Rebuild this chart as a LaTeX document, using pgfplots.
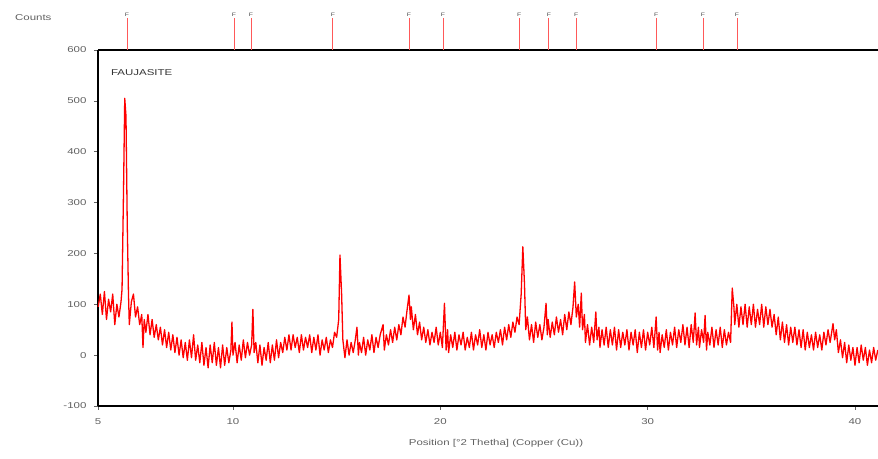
\documentclass[border=0pt]{standalone}
\usepackage{fontspec}
\setmainfont{Liberation Sans}[FakeStretch=1.35]
\usepackage{pgfplots}
\usepackage{pgfplotstable}
\pgfplotsset{compat=1.18}
\definecolor{lblgray}{HTML}{606060}
\pgfplotstableread{
x y
3.5 95
3.6 120
3.7 80
3.8 125
3.9 70
4.0 110
4.1 85
4.2 120
4.3 60
4.4 100
4.5 75
4.6 105
4.65 130
4.72 320
4.78 505
4.84 470
4.90 260
4.96 120
5.0 60
5.1 105
5.2 120
5.3 75
5.4 95
5.5 60
5.6 80
5.66 15
5.72 70
5.8 45
5.9 80
6.0 40
6.1 70
6.2 35
6.3 60
6.4 30
6.5 55
6.6 20
6.7 50
6.8 15
6.9 45
7.0 10
7.1 40
7.2 5
7.3 35
7.4 0
7.5 30
7.6 -5
7.7 25
7.8 -10
7.9 30
8.0 -5
8.1 40
8.2 -10
8.3 20
8.4 -15
8.5 25
8.6 -20
8.7 15
8.8 -25
8.9 20
9.0 -15
9.1 25
9.2 -20
9.3 15
9.4 -25
9.5 20
9.6 -20
9.7 15
9.8 -15
9.9 10
9.95 65
10.0 0
10.1 25
10.2 -15
10.3 20
10.4 -10
10.5 30
10.6 -5
10.7 25
10.8 0
10.9 20
10.96 90
11.02 5
11.1 25
11.2 -15
11.3 20
11.4 -20
11.5 15
11.6 -10
11.7 25
11.8 -15
11.9 20
12.0 -10
12.1 30
12.2 -5
12.3 25
12.4 5
12.5 35
12.6 10
12.7 40
12.8 10
12.9 40
13.0 15
13.1 35
13.2 5
13.3 40
13.4 10
13.5 35
13.6 15
13.7 40
13.8 5
13.9 35
14.0 10
14.1 40
14.2 0
14.3 30
14.4 10
14.5 35
14.6 5
14.7 30
14.8 15
14.9 45
15.0 35
15.1 70
15.16 197
15.24 120
15.3 30
15.4 -5
15.5 30
15.6 0
15.7 25
15.8 5
15.9 30
15.98 55
16.05 0
16.1 25
16.2 5
16.3 35
16.4 0
16.5 30
16.6 10
16.7 40
16.8 5
16.9 35
17.0 15
17.1 40
17.24 60
17.3 10
17.4 40
17.5 20
17.6 50
17.7 25
17.8 55
17.9 30
18.0 60
18.1 40
18.2 75
18.3 55
18.4 90
18.49 118
18.56 70
18.6 95
18.7 50
18.8 80
18.9 40
19.0 65
19.1 30
19.2 55
19.3 25
19.4 50
19.5 20
19.6 45
19.7 25
19.8 55
19.9 20
20.0 45
20.1 15
20.2 102
20.28 10
20.35 50
20.4 5
20.5 40
20.6 15
20.7 45
20.8 10
20.9 40
21.0 20
21.1 45
21.2 10
21.3 35
21.4 15
21.5 45
21.6 10
21.7 40
21.8 20
21.9 50
22.0 15
22.1 40
22.2 10
22.3 45
22.4 20
22.5 40
22.6 15
22.7 45
22.8 25
22.9 50
23.0 20
23.1 55
23.2 30
23.3 60
23.4 35
23.5 65
23.6 45
23.7 75
23.8 60
23.9 120
23.98 213
24.06 140
24.12 50
24.2 75
24.3 30
24.4 60
24.5 25
24.6 65
24.7 35
24.8 60
24.9 30
25.0 55
25.1 102
25.16 40
25.2 70
25.3 35
25.4 65
25.5 40
25.6 75
25.7 45
25.8 70
25.9 40
26.0 80
26.1 50
26.2 85
26.3 60
26.4 95
26.48 144
26.56 75
26.65 100
26.72 55
26.8 122
26.86 50
26.95 80
27.0 25
27.1 60
27.2 20
27.3 55
27.4 25
27.5 85
27.56 30
27.65 55
27.7 15
27.8 50
27.9 20
28.0 55
28.1 15
28.2 50
28.3 20
28.4 55
28.5 10
28.6 50
28.7 15
28.8 45
28.9 20
29.0 50
29.1 10
29.2 45
29.3 20
29.4 50
29.5 5
29.6 45
29.7 15
29.8 50
29.9 10
30.0 45
30.1 20
30.2 55
30.3 15
30.41 75
30.48 10
30.55 45
30.6 5
30.7 40
30.8 15
30.9 50
31.0 10
31.1 45
31.2 20
31.3 55
31.4 15
31.5 50
31.6 25
31.7 60
31.8 20
31.9 55
32.0 15
32.1 60
32.2 25
32.29 83
32.36 20
32.45 55
32.5 15
32.6 50
32.7 25
32.77 78
32.84 10
32.9 45
33.0 20
33.1 55
33.2 15
33.3 50
33.4 20
33.5 55
33.6 15
33.7 50
33.8 20
33.9 45
34.0 25
34.08 132
34.16 95
34.2 60
34.3 100
34.4 55
34.5 95
34.6 60
34.7 100
34.8 55
34.9 95
35.0 60
35.1 100
35.2 55
35.3 90
35.4 60
35.5 100
35.6 55
35.7 95
35.8 60
35.9 90
36.0 55
36.1 80
36.2 40
36.3 75
36.4 30
36.5 65
36.6 25
36.7 60
36.8 20
36.9 55
37.0 25
37.1 55
37.2 20
37.3 50
37.4 15
37.5 50
37.6 10
37.7 45
37.8 15
37.9 40
38.0 10
38.1 45
38.2 15
38.3 40
38.4 10
38.5 45
38.6 20
38.7 50
38.8 25
38.94 62
39.02 30
39.1 50
39.2 5
39.3 30
39.4 -5
39.5 25
39.6 -15
39.7 20
39.8 -10
39.9 15
40.0 -20
40.1 15
40.2 -15
40.3 20
40.4 -10
40.5 15
40.6 -20
40.7 10
40.8 -15
40.9 15
41.0 -10
41.1 10
}\xrd
\pgfplotstableread{
x y
4.89 663
10.05 663
10.87 663
14.82 663
18.49 663
20.13 663
23.80 663
25.24 663
26.55 663
30.41 663
32.67 663
34.31 663
}\refpk
\begin{document}
\begin{tikzpicture}
\begin{axis}[
  scale only axis,
  width=780pt, height=356pt,
  xmin=3.49, xmax=41.11,
  ymin=-100, ymax=600,
  axis x line*=box, axis y line*=left,
  axis line style={black, line width=2.4pt},
  clip=false,
  xtick={3.49,10,20,30,40},
  xticklabels={5,10,20,30,40},
  ytick={-100,0,100,200,300,400,500,600},
  tick style={lblgray, line width=0.5pt},
  major tick length=4pt,
  tick align=outside,
  xtick pos=bottom, ytick pos=left,
  /pgf/number format/assume math mode=true,
  ticklabel style={font=\fontsize{8.5}{10}\selectfont, text=lblgray},
  xticklabel style={yshift=-5pt},
  yticklabel style={xshift=-4pt},
  xlabel={Position [°2 Thetha] (Copper (Cu))},
  xlabel style={font=\fontsize{8.5}{10}\selectfont, text=lblgray, yshift=-8pt, xshift=8pt},
]
\addplot[red, line width=1.3pt, line join=round] table[x=x, y=y] {\xrd};
\addplot[red!65, line width=1pt, unbounded coords=jump] coordinates {
(4.89,600)(4.89,663)(nan,nan)
(10.05,600)(10.05,663)(nan,nan)
(10.87,600)(10.87,663)(nan,nan)
(14.82,600)(14.82,663)(nan,nan)
(18.49,600)(18.49,663)(nan,nan)
(20.13,600)(20.13,663)(nan,nan)
(23.80,600)(23.80,663)(nan,nan)
(25.24,600)(25.24,663)(nan,nan)
(26.55,600)(26.55,663)(nan,nan)
(30.41,600)(30.41,663)(nan,nan)
(32.67,600)(32.67,663)(nan,nan)
(34.31,600)(34.31,663)
};
\addplot[draw=none, mark=none, nodes near coords={F},
  every node near coord/.append style={font=\fontsize{5}{5}\selectfont, text=black!70, anchor=south, inner sep=1pt}]
  table[x=x, y=y] {\refpk};
\node[anchor=west, font=\fontsize{8.5}{10}\selectfont, text=black!80] at (axis cs:3.95,555) {FAUJASITE};
\node[font=\fontsize{8.5}{10}\selectfont, text=lblgray] at (axis description cs:-0.083,1.09) {Counts};
\end{axis}
\pgfresetboundingbox
\path[use as bounding box] (current axis.south west) ++(-98pt,-53pt) rectangle ([shift={(0pt,50pt)}]current axis.north east);
\end{tikzpicture}
\end{document}
